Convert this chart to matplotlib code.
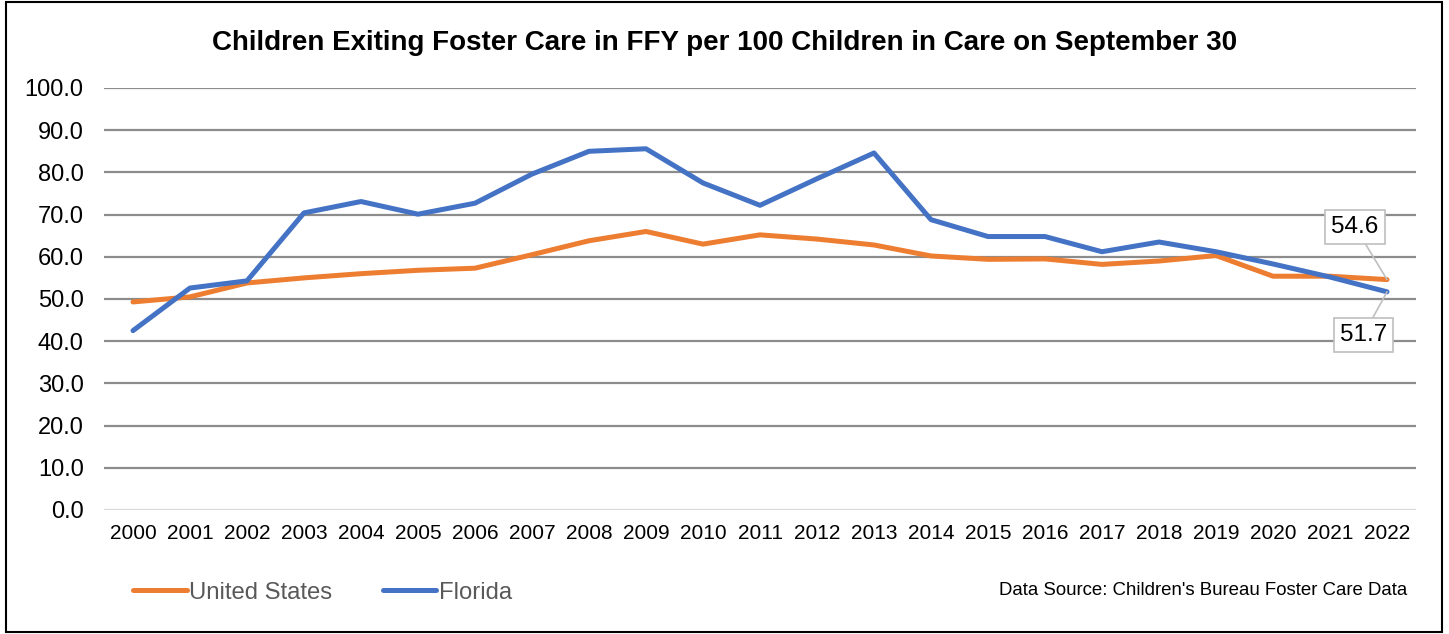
import matplotlib
matplotlib.use("Agg")
import matplotlib.pyplot as plt
from matplotlib.patches import Rectangle

plt.rcParams['font.family'] = ['Liberation Sans', 'DejaVu Sans']

years = [str(y) for y in range(2000, 2023)]
us = [49.3, 50.5, 53.8, 55.0, 56.0, 56.8, 57.3, 60.5, 63.8, 66.0, 63.0, 65.2,
      64.2, 62.8, 60.2, 59.4, 59.5, 58.2, 59.0, 60.3, 55.4, 55.4, 54.6]
florida = [42.5, 52.6, 54.3, 70.4, 73.1, 70.1, 72.7, 79.6, 85.0, 85.6, 77.5, 72.2,
           78.5, 84.6, 68.8, 64.8, 64.8, 61.2, 63.5, 61.2, 58.3, 55.2, 51.7]
yticks = [0, 10, 20, 30, 40, 50, 60, 70, 80, 90, 100]

orange = '#ed7d31'
blue = '#4472c4'

fig = plt.figure(figsize=(14.49, 6.34), dpi=100)
ax = fig.add_axes([0.0721, 0.1956, 0.9048, 0.6656])

x = list(range(len(years)))
ax.plot(x, us, color=orange, lw=3.6, solid_capstyle='round', solid_joinstyle='round',
        label='United States', zorder=3)
ax.plot(x, florida, color=blue, lw=3.6, solid_capstyle='round', solid_joinstyle='round',
        label='Florida', zorder=3)

ax.set_xlim(-0.5, len(years) - 0.5)
ax.set_ylim(0, 100)
ax.set_yticks(yticks)
ax.set_yticklabels(['%.1f' % v for v in yticks])
ax.set_xticks(x)
ax.set_xticklabels(years)
ax.tick_params(axis='both', length=0, colors='black')
ax.tick_params(axis='y', pad=15, labelsize=17)
ax.tick_params(axis='x', pad=10, labelsize=15)

for v in yticks:
    ax.axhline(v, color='#d9d9d9' if v == 0 else '#8c8c8c', lw=1.6, zorder=1)
for s in ax.spines.values():
    s.set_visible(False)

box = dict(boxstyle='square,pad=0.25', fc='white', ec='#bfbfbf', lw=1.2)
arrow = dict(arrowstyle='-', color='#bfbfbf', lw=1.2, shrinkA=0, shrinkB=0)
ax.annotate('%.1f' % us[-1], (x[-1], us[-1]), xytext=(-23, 38), textcoords='offset points',
            ha='center', va='center', fontsize=17.5, bbox=box, arrowprops=arrow, zorder=5)
ax.annotate('%.1f' % florida[-1], (x[-1], florida[-1]), xytext=(-17, -31),
            textcoords='offset points', ha='center', va='center', fontsize=17.5,
            bbox=box, arrowprops=arrow, zorder=5)

fig.text(0.5, 0.932, 'Children Exiting Foster Care in FFY per 100 Children in Care on September 30',
         ha='center', va='center', fontsize=20, fontweight='bold')

leg = fig.legend(loc='center left', bbox_to_anchor=(0.077, 0.065), ncol=2, frameon=False,
                 fontsize=17.2, handlelength=2.25, handletextpad=0.1, columnspacing=2.1)
for t in leg.get_texts():
    t.set_color('#595959')

fig.text(0.971, 0.069, "Data Source: Children's Bureau Foster Care Data",
         ha='right', va='center', fontsize=13.4)

fig.patches.append(Rectangle((0.004, 0.003), 0.991, 0.994, transform=fig.transFigure,
                             fill=False, ec='black', lw=1.5))

fig.savefig('out.png', dpi=100)
